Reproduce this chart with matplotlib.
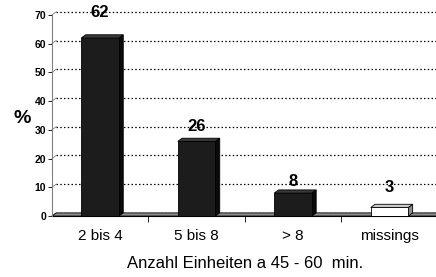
import numpy as np
import matplotlib
matplotlib.use('Agg')
import matplotlib.pyplot as plt
from matplotlib.patches import Polygon

plt.rcParams['font.family'] = ['Liberation Sans', 'DejaVu Sans']

# data
categories = ['2 bis 4', '5 bis 8', '> 8', 'missings']
values = [62, 26, 8, 3]
y_ticks = [0, 10, 20, 30, 40, 50, 60, 70]

# style
front_cols = ['#1c1c1c', '#1c1c1c', '#1c1c1c', '#ffffff']
top_cols = ['#3a3a3a', '#3a3a3a', '#3a3a3a', '#c8c8c8']
side_cols = ['#0a0a0a', '#0a0a0a', '#0a0a0a', '#8c8c8c']
label_off = [18, 11, 8.6, 14.5]   # points above the bar top

fig = plt.figure(figsize=(4.36, 2.77), dpi=100)
ax = fig.add_axes([0.119, 0.22, 0.885, 0.726])

x = np.arange(len(categories))
width = 0.39
dx, dy = 0.045, 1.1   # 3d depth in data units

ax.set_xlim(-0.5, len(categories) - 0.5)
ax.set_ylim(0, 70)

# dotted gridlines on back wall
for t in y_ticks:
    ax.plot([-0.5 + dx, len(categories) - 0.5], [t + dy, t + dy], ls=(0, (1.2, 1.8)),
            color='black', lw=0.9, zorder=1, clip_on=False)
    ax.plot([-0.5, -0.5 + dx], [t, t + dy], color='#808080', lw=0.6, zorder=1, clip_on=False)

# floor
floor = Polygon([(-0.5, 0), (len(categories) - 0.5, 0), (len(categories) - 0.5 + dx, dy),
                 (-0.5 + dx, dy)], closed=True, facecolor='#8c8c8c', edgecolor='black',
                lw=0.6, zorder=2, clip_on=False)
ax.add_patch(floor)

for i, v in enumerate(values):
    x0 = x[i] - width / 2
    x1 = x[i] + width / 2
    side = Polygon([(x1, 0), (x1 + dx, dy), (x1 + dx, v + dy), (x1, v)], closed=True,
                   facecolor=side_cols[i], edgecolor='black', lw=0.6, zorder=3)
    top = Polygon([(x0, v), (x1, v), (x1 + dx, v + dy), (x0 + dx, v + dy)], closed=True,
                  facecolor=top_cols[i], edgecolor='black', lw=0.6, zorder=3)
    ax.add_patch(side)
    ax.add_patch(top)
bars = ax.bar(x, values, width=width, color=front_cols, edgecolor='black', lw=0.6, zorder=4)

for i, v in enumerate(values):
    ax.annotate(str(v), (x[i], v), xytext=(0, label_off[i]), textcoords='offset points',
                ha='center', va='center', fontsize=12, fontweight='bold')

for s in ['top', 'right']:
    ax.spines[s].set_visible(False)
ax.spines['left'].set_color('#808080')
ax.spines['bottom'].set_color('black')
ax.spines['left'].set_zorder(5)

ax.set_yticks(y_ticks)
ax.set_yticklabels([str(t) for t in y_ticks], fontsize=7.5, fontweight='bold')
ax.tick_params(axis='y', length=3, width=0.6, pad=1)
ax.set_xticks(np.arange(len(categories) - 1) + 0.5, minor=False)
ax.set_xticklabels([])
ax.set_xticks(x, minor=True)
ax.set_xticklabels(categories, minor=True, fontsize=11)
ax.tick_params(axis='x', which='major', length=4, width=0.6, direction='out')
ax.tick_params(axis='x', which='minor', length=0, pad=9)

ax.set_xlabel('Anzahl Einheiten a 45 - 60  min.', fontsize=12, labelpad=10)
fig.text(0.05, 0.574, '%', fontsize=14, fontweight='bold', ha='center', va='center')

fig.savefig('out.png', dpi=100)
